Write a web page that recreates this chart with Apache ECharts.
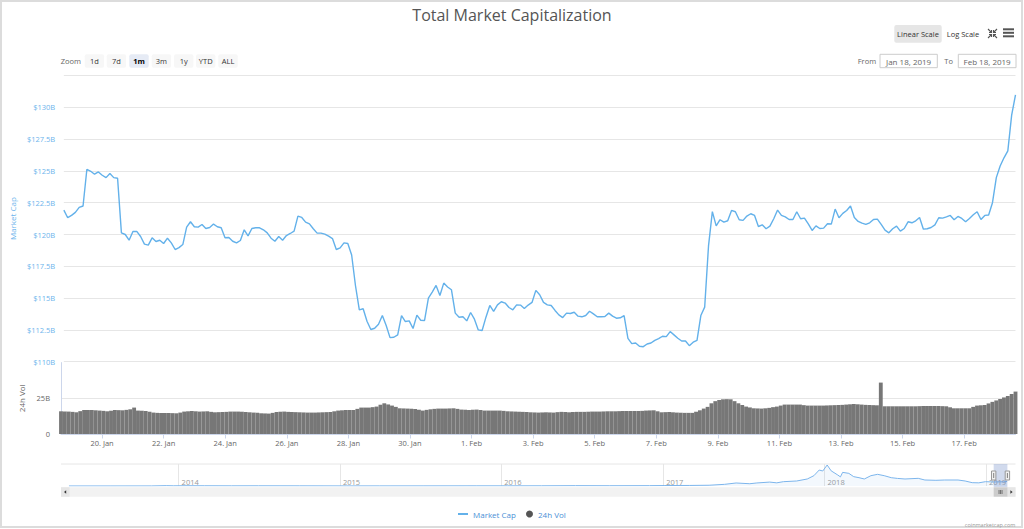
<!DOCTYPE html>
<html><head><meta charset="utf-8">
<script src="https://cdn.jsdelivr.net/npm/echarts@6/dist/echarts.min.js"></script>
<style>html,body{margin:0;padding:0;background:#fff}#c{width:1024px;height:529px}</style>
</head><body><div id="c"></div>
<script>
// ---------------- DATA ----------------
const mcapStart = '2019-01-18T16:00:00Z';
const mcapStepHours = 3;
// Total market cap, billions USD, one reading every 3 hours
const mcapValues = [
121.92,121.32,121.50,121.74,122.13,122.24,125.13,124.97,124.74,124.92,
124.66,124.47,124.79,124.47,124.42,120.13,120.00,119.55,120.24,120.24,
119.84,119.24,119.16,119.74,119.45,119.55,119.29,119.71,119.34,118.82,
118.97,119.21,120.58,121.00,120.61,120.58,120.79,120.47,120.55,120.82,
120.61,120.53,119.74,119.76,119.47,119.34,119.53,120.37,119.89,120.47,
120.53,120.53,120.37,120.13,119.71,119.47,119.84,119.55,119.92,120.08,
120.26,121.45,121.34,120.97,120.84,120.45,120.11,120.11,120.03,119.87,
119.68,118.82,118.95,119.34,119.29,118.39,115.97,114.08,114.16,113.18,
112.53,112.63,112.95,113.63,112.84,111.89,111.92,112.11,113.63,113.16,
113.21,112.61,113.66,113.26,113.24,115.00,115.47,116.00,115.21,116.18,
115.87,115.66,113.82,113.50,113.53,113.21,113.87,113.34,112.50,112.45,
113.50,114.42,113.95,114.47,114.71,114.61,114.26,114.08,114.47,114.45,
114.18,114.45,114.66,115.61,115.26,114.66,114.47,114.42,114.03,113.68,
113.47,113.82,113.79,113.89,113.58,113.53,113.63,113.97,113.76,113.53,
113.53,113.55,113.82,113.58,113.42,113.45,113.63,111.84,111.42,111.47,
111.21,111.18,111.39,111.47,111.68,111.82,112.00,111.97,112.37,112.11,
111.84,111.63,111.63,111.26,111.53,111.68,113.63,114.29,119.10,121.80,
120.68,121.16,120.97,121.08,121.89,121.79,121.16,121.11,121.45,121.63,
121.50,120.63,120.76,120.45,120.66,121.24,121.92,121.50,121.39,121.18,
121.18,121.79,121.24,121.29,120.84,120.32,120.68,120.47,120.50,120.84,
120.82,122.00,121.32,121.66,121.89,122.24,121.34,121.03,120.89,120.79,
120.92,121.18,121.21,120.79,120.34,120.13,120.45,120.66,120.26,120.47,
121.00,120.92,121.08,121.34,120.42,120.45,120.55,120.76,121.32,121.29,
121.39,121.50,121.16,121.42,121.26,121.00,121.26,121.55,121.79,121.18,
121.50,121.53,122.50,124.47,125.39,126.03,126.58,129.39,130.97
];
// 24h volume, billions USD, same time steps
const volValues = [
15.9,15.8,15.7,15.5,15.2,16.0,16.8,16.8,16.8,16.6,
16.4,16.2,15.9,16.3,16.8,16.7,16.6,16.9,17.3,18.5,
16.4,16.3,16.1,15.6,15.0,14.8,14.7,14.7,14.7,14.6,
14.5,15.0,15.7,15.9,16.1,15.9,15.7,15.8,15.9,15.5,
15.2,15.3,15.4,15.5,15.7,15.7,15.7,15.6,15.4,15.2,
15.0,14.8,14.5,14.4,14.3,14.8,15.4,15.6,15.7,15.5,
15.4,15.3,15.2,15.1,15.0,15.0,15.0,15.1,15.2,15.3,
15.4,15.9,16.4,16.6,16.8,16.8,16.8,17.6,18.5,18.5,
18.5,18.8,19.2,20.5,21.5,20.7,19.9,19.0,18.0,17.9,
17.8,17.7,17.5,17.0,16.4,16.9,17.3,17.6,17.8,17.8,
17.8,17.9,18.0,17.6,17.1,17.0,16.8,17.0,17.1,16.8,
16.4,16.4,16.4,16.4,16.4,16.2,15.9,15.8,15.7,15.6,
15.5,15.4,15.2,15.1,15.0,15.1,15.2,15.1,15.0,15.3,
15.5,15.4,15.2,15.4,15.5,15.5,15.5,15.6,15.7,15.7,
15.7,15.8,15.9,15.9,15.9,16.0,16.1,16.1,16.1,16.1,
16.1,16.2,16.4,16.5,16.6,15.9,15.2,15.3,15.4,15.2,
15.0,14.9,14.8,14.8,14.8,15.6,16.6,17.8,19.0,21.5,
23.0,23.8,24.3,24.4,24.3,23.0,21.5,20.3,19.2,18.6,
18.0,17.9,17.8,18.0,18.3,18.8,19.2,19.9,20.6,20.6,
20.6,20.6,20.6,20.2,19.9,19.9,19.9,19.9,19.9,20.0,
20.1,20.2,20.3,20.4,20.6,20.8,21.0,20.8,20.6,20.4,
20.3,20.2,20.1,36.0,19.4,19.4,19.4,19.4,19.4,19.4,
19.4,19.4,19.4,19.5,19.6,19.6,19.6,19.6,19.6,19.5,
19.4,18.7,18.0,18.0,18.0,18.0,18.0,19.0,19.9,20.1,
20.3,21.4,22.5,23.5,24.5,25.6,26.6,28.0,29.7
];
const rangeFrom = '2019-01-18T16:00:00Z';
const rangeTo = '2019-02-18T16:00:00Z';
const xTickDates = ['2019-01-20','2019-01-22','2019-01-24','2019-01-26','2019-01-28','2019-01-30',
  '2019-02-01','2019-02-03','2019-02-05','2019-02-07','2019-02-09','2019-02-11','2019-02-13','2019-02-15','2019-02-17'];
const xTickLabels = ['20. Jan','22. Jan','24. Jan','26. Jan','28. Jan','30. Jan',
  '1. Feb','3. Feb','5. Feb','7. Feb','9. Feb','11. Feb','13. Feb','15. Feb','17. Feb'];
// Navigator (all-time market cap, billions USD)
const navDates = ['2013-04-28','2013-08-01','2013-11-01','2013-12-04','2013-12-20','2014-01-20','2014-03-01',
  '2014-05-01','2014-07-01','2014-10-01','2015-01-15','2015-04-01','2015-07-10','2015-11-05','2016-01-15',
  '2016-04-01','2016-06-17','2016-09-01','2016-12-01','2017-01-05','2017-03-01','2017-04-15','2017-05-20',
  '2017-06-15','2017-07-16','2017-08-01','2017-08-30','2017-09-15','2017-09-30','2017-10-30','2017-11-23',
  '2017-12-08','2017-12-20','2017-12-28','2018-01-07','2018-01-16','2018-01-31','2018-02-06','2018-02-11',
  '2018-02-25','2018-03-08','2018-03-20','2018-04-01','2018-04-16','2018-05-01','2018-05-16','2018-06-01',
  '2018-06-15','2018-07-02','2018-08-01','2018-08-16','2018-09-10','2018-09-30','2018-10-30','2018-11-15',
  '2018-12-01','2018-12-16','2018-12-31','2019-01-18','2019-02-10','2019-02-18'];
const navValues = [1.5,1.3,2.5,14,8,11,9,
  6.5,8,6,3.5,3.8,4.5,6.5,6.5,
  7.5,13,10.5,13,18,22,30,66,
  119,90,120,155,125,171,198,277,
  408,632,593,830,600,435,360,540,
  500,369,329,277,408,461,408,329,
  300,277,303,237,225,237,237,198,
  132,125,171,160,165,180];
const navYearDates = ['2014-01-01','2015-01-01','2016-01-01','2017-01-01','2018-01-01','2019-01-01'];
const navYearLabels = ['2014','2015','2016','2017','2018','2019'];
const navRange = ['2013-04-10','2019-03-09'];
const zoomButtons = ['1d','7d','1m','3m','1y','YTD','ALL'];
const zoomSelected = '1m';

// ---------------- BUILD ----------------
const FONT = "'Open Sans', sans-serif";
const t0 = Date.parse(mcapStart);
const H = 3600 * 1000;
const day = d => Date.parse(d + 'T00:00:00Z');
const mcapData = mcapValues.map((v, i) => [t0 + i * mcapStepHours * H, v]);
const volData = volValues.map((v, i) => [t0 + i * mcapStepHours * H, v]);
const xTickTimes = xTickDates.map(day);
const navData = navDates.map((d, i) => [day(d), navValues[i]]);
const navYearTimes = navYearDates.map(day);
const xMin = Date.parse(rangeFrom), xMax = Date.parse(rangeTo);

const LINE = '#63b1ea';
const chart = echarts.init(document.getElementById('c'), null, {renderer: 'svg'});
const GRID_L = 61, GRID_R = 8.5;

const option = {
  animation: false,
  textStyle: {fontFamily: FONT},
  title: {text: 'Total Market Capitalization', left: 'center', top: 2,
    textStyle: {fontSize: 16, fontWeight: 'normal', color: '#555', fontFamily: FONT}},
  legend: [
    {data: ['Market Cap'], left: 453, top: 505, icon: 'rect', itemWidth: 10, itemHeight: 2, itemGap: 4,
      selectedMode: false, textStyle: {color: '#4a8fd6', fontSize: 8, fontFamily: FONT}},
    {data: [{name: '24h Vol', itemStyle: {color: '#555'}}], left: 521, top: 505, icon: 'circle',
      itemWidth: 7, itemHeight: 7, selectedMode: false, textStyle: {color: '#4a8fd6', fontSize: 8, fontFamily: FONT}}
  ],
  grid: [
    {left: GRID_L, right: GRID_R, top: 75.5, height: 286.2},
    {left: GRID_L, right: GRID_R, top: 362.6, height: 71.4},
    {left: GRID_L, right: GRID_R, top: 464, height: 22}
  ],
  xAxis: [
    {type: 'value', gridIndex: 0, min: xMin, max: xMax, axisLine: {show: false}, axisTick: {show: false},
      axisLabel: {show: false}, splitLine: {show: false}},
    {type: 'value', gridIndex: 1, min: xMin, max: xMax,
      axisLine: {lineStyle: {color: '#ccd6eb'}},
      axisTick: {customValues: xTickTimes, length: 4.5, lineStyle: {color: '#ccd6eb'}},
      axisLabel: {customValues: xTickTimes, color: '#666', fontSize: 7.5, margin: 5, fontFamily: FONT,
        formatter: v => { const i = xTickTimes.indexOf(v); return i >= 0 ? xTickLabels[i] : ''; }},
      splitLine: {show: false}},
    {type: 'value', gridIndex: 2, min: day(navRange[0]), max: day(navRange[1]),
      axisLine: {show: false},
      axisTick: {customValues: navYearTimes, inside: true, length: 22, lineStyle: {color: '#e6e6e6'}},
      axisLabel: {customValues: navYearTimes, inside: true, margin: 0, align: 'left', padding: [0, 0, 0, 3],
        color: '#999', fontSize: 7.5, fontFamily: FONT,
        formatter: v => { const i = navYearTimes.indexOf(v); return i >= 0 ? navYearLabels[i] : ''; }},
      splitLine: {show: false}}
  ],
  yAxis: [
    {type: 'value', gridIndex: 0, min: 110, max: 132.5, interval: 2.5,
      axisLine: {show: false}, axisTick: {show: false},
      splitLine: {lineStyle: {color: '#e6e6e6'}},
      axisLabel: {formatter: v => '$' + v + 'B', color: '#6cb4ec', fontSize: 7.5, margin: 8.7, showMaxLabel: false, fontFamily: FONT},
      name: 'Market Cap', nameLocation: 'middle', nameGap: 45, nameTextStyle: {color: '#6cb4ec', fontSize: 8, fontFamily: FONT}},
    {type: 'value', gridIndex: 1, min: 0, max: 50, interval: 25,
      axisLine: {show: true, lineStyle: {color: '#ccd6eb'}}, axisTick: {show: false},
      splitLine: {lineStyle: {color: '#e6e6e6'}, showMaxLine: false},
      axisLabel: {formatter: v => v === 0 ? '0' : v + 'B', color: '#666', fontSize: 7.5, margin: 11, showMaxLabel: false,
        padding: [0, 0, 6, 0], fontFamily: FONT},
      name: '24h Vol', nameLocation: 'middle', nameGap: 32, nameTextStyle: {color: '#666', fontSize: 8, fontFamily: FONT}},
    {type: 'value', gridIndex: 2, min: 0, max: 870, show: false, splitLine: {show: false}}
  ],
  series: [
    {name: 'Market Cap', type: 'line', xAxisIndex: 0, yAxisIndex: 0, data: mcapData, showSymbol: false,
      lineStyle: {width: 1.4, color: LINE}, itemStyle: {color: LINE}, z: 3, silent: true},
    {name: '24h Vol', type: 'bar', xAxisIndex: 1, yAxisIndex: 1, data: volData, barWidth: 3.85,
      itemStyle: {color: '#777'}, silent: true},
    {name: 'nav', type: 'line', xAxisIndex: 2, yAxisIndex: 2, data: navData, showSymbol: false,
      lineStyle: {width: 1, color: '#7cb5ec'}, areaStyle: {color: 'rgba(124,181,236,0.13)'}, silent: true}
  ]
};
chart.setOption(option);

// ---------------- DECORATION (range selector, export buttons, navigator chrome) ----------------
const wx0 = chart.convertToPixel({xAxisIndex: 2}, xMin);
const wx1 = chart.convertToPixel({xAxisIndex: 2}, xMax);
const g = [];
const txt = (x, y, s, o) => ({type: 'text', x, y, silent: true, z: 100,
  style: Object.assign({text: s, font: '7.5px ' + FONT, fill: '#333', textAlign: 'center', textVerticalAlign: 'middle'}, o || {})});
const rect = (x, y, w, h, st, r) => ({type: 'rect', silent: true, z: 99, shape: {x, y, width: w, height: h, r: r || 0}, style: st});
const pline = (pts, col, w) => ({type: 'polyline', silent: true, z: 100, shape: {points: pts}, style: {fill: 'none', stroke: col, lineWidth: w}});

g.push(rect(1, 1, 1021, 526, {fill: 'none', stroke: '#dcdcdc', lineWidth: 2}));
g.push(txt(60.7, 61, 'Zoom', {textAlign: 'left', fill: '#666'}));
const zbx = [84.7, 106.7, 129.3, 151.7, 174, 196, 218.3];
zoomButtons.forEach((b, i) => {
  const sel = b === zoomSelected;
  g.push(rect(zbx[i], 54.3, 19.4, 13.4, {fill: sel ? '#e6ebf5' : '#f7f7f7'}, 2));
  g.push(txt(zbx[i] + 9.7, 61, b, {fill: sel ? '#000' : '#333', font: (sel ? 'bold ' : '') + '7.5px ' + FONT}));
});
g.push(rect(894.3, 25, 47.4, 17.7, {fill: '#e6e6e6'}, 2));
g.push(txt(918, 33.8, 'Linear Scale'));
g.push(txt(963, 33.8, 'Log Scale'));
// expand icon: four inward arrows
g.push(pline([[988, 29], [991.5, 32.5]], '#555', 1.1));
g.push(pline([[991.5, 30], [991.5, 32.5], [989, 32.5]], '#555', 1.1));
g.push(pline([[997, 29], [993.5, 32.5]], '#555', 1.1));
g.push(pline([[993.5, 30], [993.5, 32.5], [996, 32.5]], '#555', 1.1));
g.push(pline([[988, 38], [991.5, 34.5]], '#555', 1.1));
g.push(pline([[991.5, 37], [991.5, 34.5], [989, 34.5]], '#555', 1.1));
g.push(pline([[997, 38], [993.5, 34.5]], '#555', 1.1));
g.push(pline([[993.5, 37], [993.5, 34.5], [996, 34.5]], '#555', 1.1));
[28.3, 31.8, 35.3].forEach(y => g.push(rect(1003, y, 11, 2, {fill: '#555'})));
g.push(txt(857.7, 61, 'From', {textAlign: 'left', fill: '#666'}));
g.push(rect(880, 54.3, 57.3, 13.4, {fill: '#fff', stroke: '#ccc', lineWidth: 1}));
g.push(txt(908.6, 61, 'Jan 18, 2019', {fill: '#666', font: '8px ' + FONT}));
g.push(txt(944.3, 61, 'To', {textAlign: 'left', fill: '#666'}));
g.push(rect(958.3, 54.3, 57.7, 13.4, {fill: '#fff', stroke: '#ccc', lineWidth: 1}));
g.push(txt(987.1, 61, 'Feb 18, 2019', {fill: '#666', font: '8px ' + FONT}));
g.push({type: 'line', silent: true, z: 99, shape: {x1: GRID_L, y1: 464, x2: 1024 - GRID_R, y2: 464}, style: {stroke: '#e6e6e6', lineWidth: 1}});
g.push(rect(wx0, 464, wx1 - wx0, 23.3, {fill: 'rgba(102,133,194,0.3)'}));
[wx0, wx1].forEach(x => {
  g.push(rect(x - 2.2, 471, 4.4, 9, {fill: '#f2f2f2', stroke: '#999', lineWidth: 1}));
  g.push({type: 'line', silent: true, z: 101, shape: {x1: x, y1: 473, x2: x, y2: 478}, style: {stroke: '#333', lineWidth: 0.6}});
});
g.push(rect(GRID_L, 487.3, 1024 - GRID_R - GRID_L, 9.4, {fill: '#f2f2f2'}));
g.push(rect(GRID_L, 487.3, 8.6, 9.4, {fill: '#e6e6e6'}));
g.push({type: 'polygon', silent: true, z: 100, shape: {points: [[64, 492], [66.2, 490.3], [66.2, 493.7]]}, style: {fill: '#333'}});
g.push(rect(1024 - GRID_R - 8.5, 487.3, 8.5, 9.4, {fill: '#e6e6e6'}));
g.push({type: 'polygon', silent: true, z: 100, shape: {points: [[1012.6, 492], [1010.4, 490.3], [1010.4, 493.7]]}, style: {fill: '#333'}});
g.push(rect(wx0, 487.3, wx1 - wx0, 9.4, {fill: '#cccccc'}));
[-1.5, 0, 1.5].forEach(d => g.push({type: 'line', silent: true, z: 101,
  shape: {x1: (wx0 + wx1) / 2 + d, y1: 490, x2: (wx0 + wx1) / 2 + d, y2: 494}, style: {stroke: '#333', lineWidth: 0.6}}));
g.push(txt(1015.4, 524.5, 'coinmarketcap.com', {textAlign: 'right', fill: '#999', font: '5.5px ' + FONT}));

chart.setOption({graphic: {elements: g}});
</script>
</body></html>
